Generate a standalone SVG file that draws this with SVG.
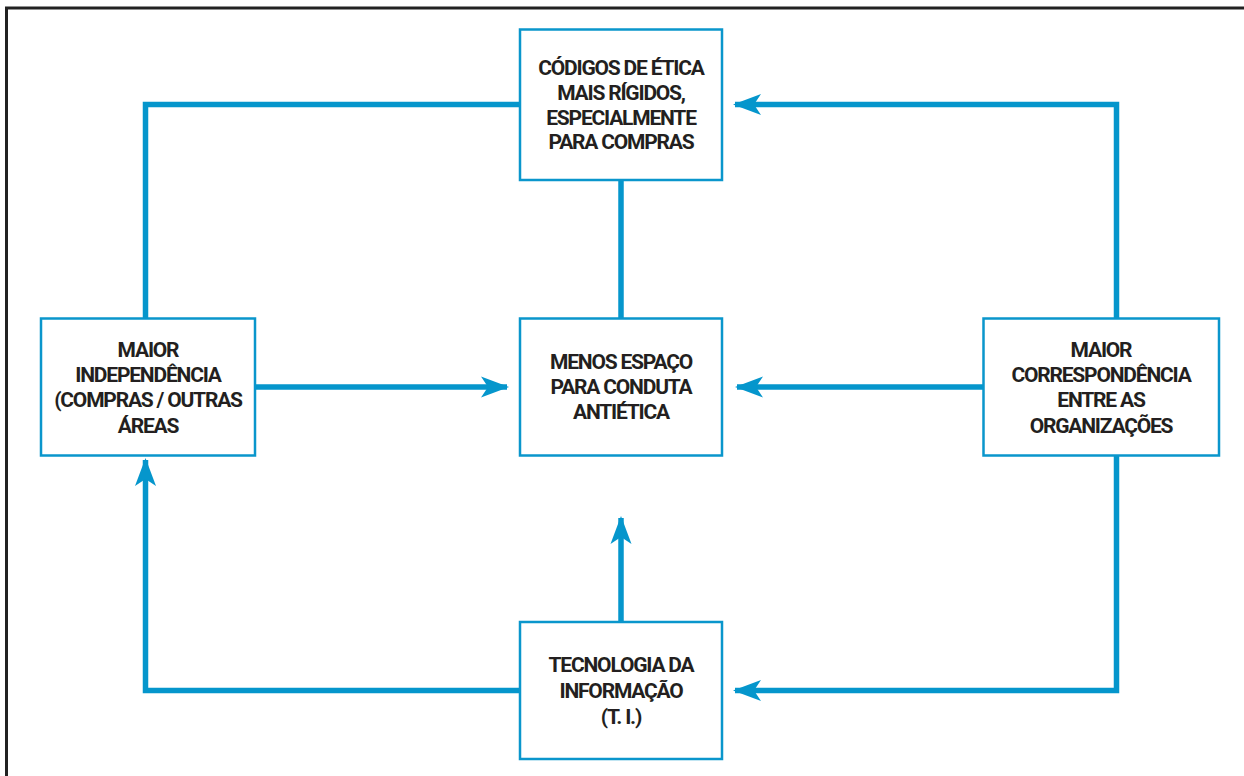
<svg xmlns="http://www.w3.org/2000/svg" width="1244" height="776" viewBox="0 0 1244 776">
<style>
.box{fill:#fff;stroke:#0a96cc;stroke-width:2.5}
.con{fill:none;stroke:#0596cc;stroke-width:5.5}
text{font-family:Roboto,"Liberation Sans",sans-serif;font-weight:700;font-size:21px;fill:#231f20;text-anchor:middle;letter-spacing:-1.2px}
</style>
<defs>
<marker id="ah" viewBox="0 0 28 22" refX="26" refY="11" markerWidth="28" markerHeight="22" markerUnits="userSpaceOnUse" orient="auto">
<path d="M28,11 L0,0.5 L7,11 L0,21.5 Z" fill="#0596cc"/>
</marker>
</defs>
<rect width="1244" height="776" fill="#fff"/>
<path d="M6.5,776 V8 H1244" fill="none" stroke="#222" stroke-width="3"/>
<g id="connectors">
<path class="con" d="M145.5,318 V104.5 H520"/>
<path class="con" d="M621,180 V318"/>
<path class="con" d="M1116.5,318 V104.5 H735" marker-end="url(#ah)"/>
<path class="con" d="M255,387 H507" marker-end="url(#ah)"/>
<path class="con" d="M983,387 H737" marker-end="url(#ah)"/>
<path class="con" d="M1116.5,455 V690.5 H735" marker-end="url(#ah)"/>
<path class="con" d="M520,690.5 H145.5 V460" marker-end="url(#ah)"/>
<path class="con" d="M621,622 V518" marker-end="url(#ah)"/>
</g>
<g id="codigos">
<rect class="box" x="520" y="29.5" width="202" height="150.5"/>
<text x="621" y="75">CÓDIGOS DE ÉTICA</text>
<text x="621" y="100">MAIS RÍGIDOS,</text>
<text x="621" y="124.5">ESPECIALMENTE</text>
<text x="621" y="149">PARA COMPRAS</text>
</g>
<g id="independencia">
<rect class="box" x="41" y="318.5" width="214" height="137"/>
<text x="148" y="357">MAIOR</text>
<text x="148" y="382">INDEPENDÊNCIA</text>
<text x="148" y="407">(COMPRAS / OUTRAS</text>
<text x="148" y="432.5">ÁREAS</text>
</g>
<g id="menos">
<rect class="box" x="520" y="318.5" width="202" height="137"/>
<text x="621" y="369">MENOS ESPAÇO</text>
<text x="621" y="394">PARA CONDUTA</text>
<text x="621" y="419">ANTIÉTICA</text>
</g>
<g id="correspondencia">
<rect class="box" x="983.5" y="318.5" width="235.5" height="137"/>
<text x="1101" y="357">MAIOR</text>
<text x="1101" y="382">CORRESPONDÊNCIA</text>
<text x="1101" y="407">ENTRE AS</text>
<text x="1101" y="433">ORGANIZAÇÕES</text>
</g>
<g id="tecnologia">
<rect class="box" x="520" y="622" width="202" height="137"/>
<text x="621" y="672">TECNOLOGIA DA</text>
<text x="621" y="698">INFORMAÇÃO</text>
<text x="621" y="724">(T. I.)</text>
</g>
</svg>
